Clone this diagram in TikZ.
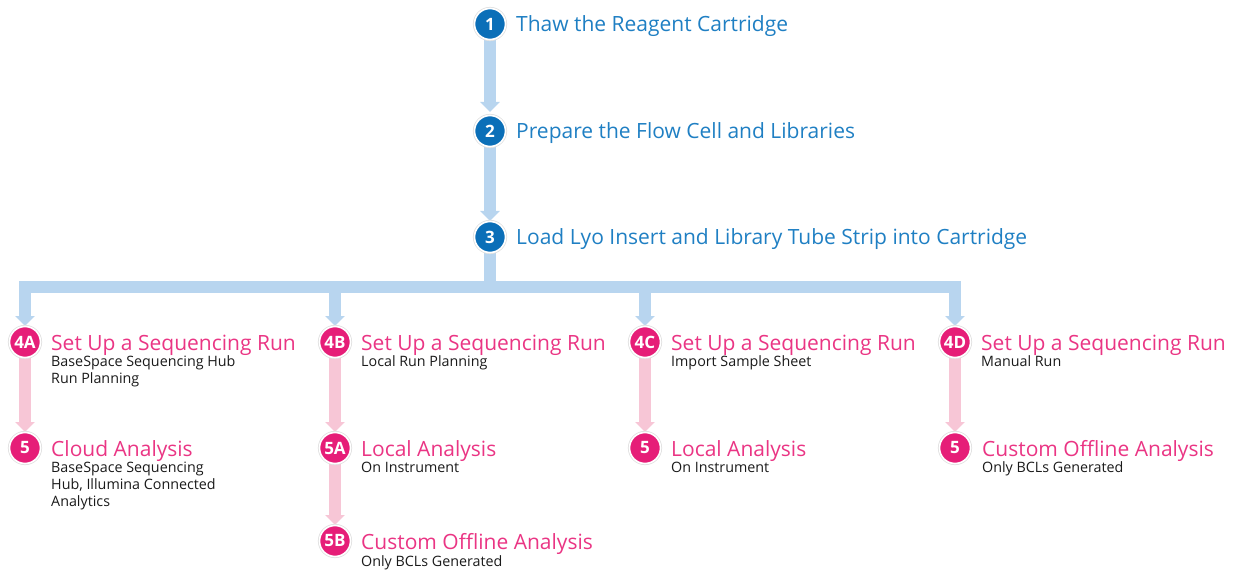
\documentclass[tikz,border=0pt]{standalone}
\usepackage{fontspec}
\setmainfont{Open Sans}
\usetikzlibrary{arrows.meta}
\definecolor{cblue}{HTML}{0B6FB8}
\definecolor{tblue}{HTML}{1F7FC3}
\definecolor{lblue}{HTML}{B8D5EF}
\definecolor{cpink}{HTML}{E61E78}
\definecolor{tpink}{HTML}{EA3584}
\definecolor{lpink}{HTML}{F7C6D6}
\definecolor{subtxt}{HTML}{1A1A1A}
\tikzset{
  stepcirc/.style={circle, fill=#1, draw=white, line width=1.6pt, minimum size=31pt, inner sep=0pt,
     text=white, font=\bfseries\fontsize{17}{17}\selectfont,
     preaction={draw=black!12, line width=3.2pt}},
  bluetitle/.style={anchor=base west, text=tblue, font=\fontsize{21}{22}\selectfont, inner sep=0pt},
  pinktitle/.style={anchor=base west, text=tpink, font=\fontsize{21}{22}\selectfont, inner sep=0pt},
  subtext/.style={anchor=north west, text=subtxt, font=\fontsize{14.3}{17}\selectfont, inner sep=0pt, align=left},
  bluearrow/.style={draw=lblue, line width=12pt, line join=miter, -{Triangle[width=19pt,length=10pt]}},
  bluebar/.style={draw=lblue, line width=12pt, line join=miter},
  pinkarrow/.style={draw=lpink, line width=12pt, -{Triangle[width=19pt,length=10pt]}},
}
\begin{document}
\begin{tikzpicture}[x=1pt,y=-1pt]
\useasboundingbox (0,0) rectangle (1235,572);
% coordinates
\coordinate (p1) at (490,24);
\coordinate (p2) at (490,131);
\coordinate (p3) at (490,237);
\coordinate (bar) at (490,287);
% connectors
\draw[bluearrow, shorten >=2pt] (p1) -- (p2|-0,114);
\draw[bluearrow] (p2) -- (p3|-0,221);
\draw[bluebar] (p3) -- (bar);
\draw[bluearrow] (bar) -| (25,326);
\draw[bluearrow] (bar) -| (335,326);
\draw[bluearrow] (bar) -| (645,326);
\draw[bluearrow] (bar) -| (955,326);
\draw[pinkarrow] (25,342) -- (25,432);
\draw[pinkarrow] (335,342) -- (335,432);
\draw[pinkarrow] (335,448) -- (335,525);
\draw[pinkarrow] (645,342) -- (645,432);
\draw[pinkarrow] (955,342) -- (955,432);
% circles
\node[stepcirc=cblue] (c1) at (p1) {1};
\node[stepcirc=cblue] (c2) at (p2) {2};
\node[stepcirc=cblue] (c3) at (p3) {3};
\node[stepcirc=cpink] (c4a) at (25,342) {4A};
\node[stepcirc=cpink] (c4b) at (335,342) {4B};
\node[stepcirc=cpink] (c4c) at (645,342) {4C};
\node[stepcirc=cpink] (c4d) at (955,342) {4D};
\node[stepcirc=cpink] (c5a) at (25,448) {5};
\node[stepcirc=cpink] (c5b) at (335,448) {5A};
\node[stepcirc=cpink] (c5c) at (335,541) {5B};
\node[stepcirc=cpink] (c5d) at (645,448) {5};
\node[stepcirc=cpink] (c5e) at (955,448) {5};
% texts
\node[bluetitle] (t1) at (516,32) {Thaw the Reagent Cartridge};
\node[bluetitle] (t2) at (516,139) {Prepare the Flow Cell and Libraries};
\node[bluetitle] (t3) at (516,245) {Load Lyo Insert and Library Tube Strip into Cartridge};
\node[pinktitle] (h4a) at (51,350) {Set Up a Sequencing Run};
\node[pinktitle] (h4b) at (361,350) {Set Up a Sequencing Run};
\node[pinktitle] (h4c) at (671,350) {Set Up a Sequencing Run};
\node[pinktitle] (h4d) at (981,350) {Set Up a Sequencing Run};
\node[subtext] (s4a) at (51,355.5) {BaseSpace Sequencing Hub\\Run Planning};
\node[subtext] (s4b) at (361,355.5) {Local Run Planning};
\node[subtext] (s4c) at (671,355.5) {Import Sample Sheet};
\node[subtext] (s4d) at (981,355.5) {Manual Run};
\node[pinktitle] (h5a) at (51,456) {Cloud Analysis};
\node[pinktitle] (h5b) at (361,456) {Local Analysis};
\node[pinktitle] (h5c) at (361,549) {Custom Offline Analysis};
\node[pinktitle] (h5d) at (671,456) {Local Analysis};
\node[pinktitle] (h5e) at (982,456) {Custom Offline Analysis};
\node[subtext] (s5a) at (51,461.5) {BaseSpace Sequencing\\Hub, Illumina Connected\\Analytics};
\node[subtext] (s5b) at (361,461.5) {On Instrument};
\node[subtext] (s5c) at (361,555) {Only BCLs Generated};
\node[subtext] (s5d) at (671,461.5) {On Instrument};
\node[subtext] (s5e) at (982,461.5) {Only BCLs Generated};
\end{tikzpicture}
\end{document}
